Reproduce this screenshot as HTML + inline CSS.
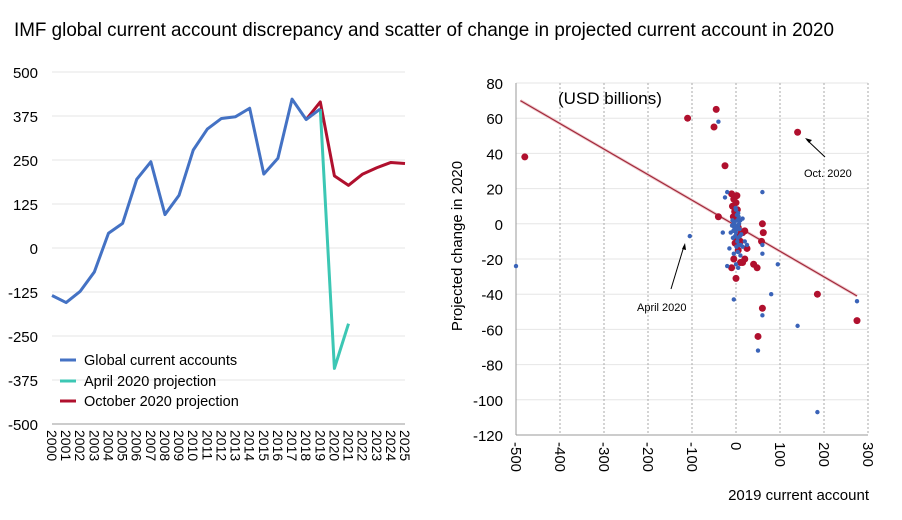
<!DOCTYPE html>
<html><head><meta charset="utf-8"><style>
html,body{margin:0;padding:0;background:#fff;width:902px;height:520px;overflow:hidden}
svg text{font-family:"Liberation Sans",sans-serif}
</style></head><body>
<svg id="s" width="902" height="520" xmlns="http://www.w3.org/2000/svg">
<text x="14" y="36" font-size="19.5" fill="#000" textLength="820" lengthAdjust="spacingAndGlyphs">IMF global current account discrepancy and scatter of change in projected current account in 2020</text>
<g id="L"></g><g id="R"></g>
</svg>
<script>
const NS="http://www.w3.org/2000/svg";
function el(p,t,a,txt){const e=document.createElementNS(NS,t);for(const k in a)e.setAttribute(k,a[k]);if(txt!==undefined)e.textContent=txt;p.appendChild(e);return e;}
// LEFT
const L=document.getElementById('L');
const ly=v=>248-v*0.352, lx=y=>52+(y-2000)*14.12;
for(let v=-500;v<=500;v+=125){
  el(L,'line',{x1:52,x2:405,y1:ly(v),y2:ly(v),stroke:v==-500?'#999':'#e6e6e6','stroke-width':1});
  el(L,'text',{x:38,y:ly(v)+6,'font-size':15,'text-anchor':'end'},v);
}
for(let y=2000;y<=2025;y++){
  el(L,'text',{x:0,y:0,'font-size':14,transform:`translate(${lx(y)-5},430) rotate(90)`},y);
}
const blue=[-135,-155,-123,-68,42,70,195,245,95,150,278,338,368,373,397,210,255,423,365,395];
const oct={2018:365,2019:415,2020:205,2021:178,2022:210,2023:228,2024:243,2025:240};
const apr={2019:395,2020:-342,2021:-215};
function poly(pts,c){el(L,'polyline',{points:pts.map(p=>p.join(',')).join(' '),fill:'none',stroke:c,'stroke-width':3,'stroke-linejoin':'round'});}
poly(Object.entries(oct).map(([y,v])=>[lx(+y),ly(v)]),'#b0102e');
poly(Object.entries(apr).map(([y,v])=>[lx(+y),ly(v)]),'#3cc7b4');
poly(blue.map((v,i)=>[lx(2000+i),ly(v)]),'#4472c4');
[['Global current accounts','#4472c4',360],['April 2020 projection','#3cc7b4',381],['October 2020 projection','#b0102e',401]].forEach(([t,c,y])=>{
  el(L,'line',{x1:60,x2:76,y1:y,y2:y,stroke:c,'stroke-width':3});
  el(L,'text',{x:84,y:y+5,'font-size':14.5},t);
});
// RIGHT
const R=document.getElementById('R');
const rx=v=>736+v*0.44, ry=v=>223.8-v*1.76;
for(let v=-120;v<=80;v+=20){
  el(R,'line',{x1:516,x2:868,y1:ry(v),y2:ry(v),stroke:v==-120?'#999':'#e6e6e6','stroke-width':1});
  el(R,'text',{x:503,y:ry(v)+6,'font-size':15,'text-anchor':'end'},v);
}
for(let v=-500;v<=300;v+=100){
  if(v>-500) el(R,'line',{x1:rx(v),x2:rx(v),y1:83,y2:435,stroke:'#aaa','stroke-width':1,'stroke-dasharray':'2,2'});
  el(R,'text',{x:0,y:0,'font-size':15,transform:`translate(${rx(v)-5},442) rotate(90)`},v);
}
el(R,'line',{x1:516,x2:516,y1:83,y2:435,stroke:'#999'});
el(R,'text',{x:0,y:0,'font-size':15,transform:'translate(462,246) rotate(-90)','text-anchor':'middle'},'Projected change in 2020');
el(R,'text',{x:869,y:500,'font-size':15,'text-anchor':'end'},'2019 current account');
el(R,'text',{x:558,y:104,'font-size':17},'(USD billions)');
el(R,'line',{x1:rx(-490),y1:ry(70),x2:rx(275),y2:ry(-41),stroke:'#f0c8cc','stroke-width':3});
el(R,'line',{x1:rx(-490),y1:ry(70),x2:rx(275),y2:ry(-41),stroke:'#a0283a','stroke-width':1.2});
const redP=[[-480,38],[-110,60],[-45,65],[-50,55],[-25,33],[-10,17],[2,16],[-5,14],[0,12],[-8,10],[-3,7],[3,8],[-6,4],[1,3],[-40,4],[60,0],[62,-5],[58,-10],[40,-23],[48,-25],[185,-40],[275,-55],[60,-48],[50,-64],[-10,-25],[-5,-20],[0,-8],[10,-10],[15,-5],[20,-4],[25,-14],[5,-15],[10,-22],[15,-22],[20,-20],[-2,-11],[140,52],[0,-31],[5,-2],[8,-6]];
const blueP=[[-500,-24],[-105,-7],[-40,58],[-20,18],[-25,15],[60,18],[-30,-5],[-20,-24],[-5,-43],[80,-40],[140,-58],[185,-107],[275,-44],[50,-72],[60,-52],[95,-23],[60,-12],[60,-17],[20,-10],[25,-12],[-15,-14],[-5,-17],[0,-23],[5,-25],[15,-13],[10,-18],[-12,-5],[0,8],[2,5],[-5,0],[-3,-3],[5,-1],[8,-3],[10,2],[12,-6],[-8,2],[4,-8],[0,-5],[-2,-7],[6,-12],[3,-10],[-4,-2],[7,0],[15,3],
[-6,-4],[-1,-1],[3,2],[6,4],[-3,1],[2,-3],[9,-7],[-7,-8],[1,-13],[4,-16],[11,-12],[-9,-1],[5,6],[-1,9]];
redP.forEach(([x,y])=>el(R,'circle',{cx:rx(x),cy:ry(y),r:3.5,fill:'#b0102e'}));
blueP.forEach(([x,y])=>el(R,'circle',{cx:rx(x),cy:ry(y),r:2.2,fill:'#3a63b8'}));
// annotations
el(R,'line',{x1:825,y1:157,x2:807,y2:140,stroke:'#000'});el(R,'path',{d:'M805 138 l7 2 l-3 3z',fill:'#000'});
el(R,'text',{x:804,y:177,'font-size':11},'Oct. 2020');
el(R,'line',{x1:671,y1:289,x2:684,y2:246,stroke:'#000'});el(R,'path',{d:'M685 243 l1 7 l-4 -1z',fill:'#000'});
el(R,'text',{x:637,y:311,'font-size':11},'April 2020');
</script>
</body></html>
